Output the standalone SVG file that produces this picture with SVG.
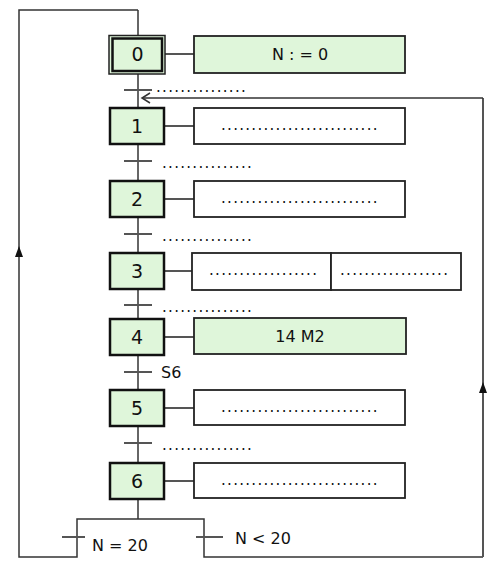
<svg xmlns="http://www.w3.org/2000/svg" width="503" height="578" viewBox="0 0 503 578">
<style>
.step{fill:#dff6da;stroke:#111;stroke-width:2.5}
.num{font-family:"DejaVu Sans",sans-serif;font-size:19px;fill:#111;text-anchor:middle}
.act{fill:#fff;stroke:#222;stroke-width:1.8}
.actg{fill:#dff6da;stroke:#222;stroke-width:1.8}
.txt{font-family:"DejaVu Sans",sans-serif;font-size:16px;fill:#111}
.dots{font-family:"DejaVu Sans",sans-serif;font-size:15px;fill:#111;letter-spacing:1.3px}
.ln{fill:none;stroke:#333;stroke-width:1.5}
.lk{fill:none;stroke:#555;stroke-width:2}
</style>
<rect width="503" height="578" fill="#fff"/>
<g id="connectors">
<path class="ln" d="M138 10 V519"/>
<path class="ln" d="M138 10 H19 V557 H77 V519 H204 V557 H483"/>
<path class="lk" d="M483 557 V98"/>
<path class="ln" d="M483 98 H142"/>
<path class="ln" d="M150 93 L142 98 L150 103"/>
<path d="M19 246 L15 257 L23 257 Z" fill="#111"/>
<path d="M483 382 L479 393 L487 393 Z" fill="#111"/>
<g class="lk">
<path d="M165 54 H194"/>
<path d="M164 126 H194"/>
<path d="M164 199 H194"/>
<path d="M164 271 H192"/>
<path d="M164 337 H194"/>
<path d="M164 408 H194"/>
<path d="M164 481 H194"/>
</g>
<g class="lk">
<path d="M124 90 H152"/>
<path d="M124 161 H152"/>
<path d="M124 234 H152"/>
<path d="M124 305 H152"/>
<path d="M124 372 H152"/>
<path d="M124 443 H152"/>
<path d="M62 537 H85"/>
<path d="M196 537 H223"/>
</g>
<text class="dots" x="156" y="92">...............</text>
<text class="dots" x="162" y="168">...............</text>
<text class="dots" x="162" y="241">...............</text>
<text class="dots" x="162" y="312">...............</text>
<text class="txt" x="161" y="378">S6</text>
<text class="dots" x="162" y="450">...............</text>
<text class="txt" x="92" y="551">N = 20</text>
<text class="txt" x="235" y="544">N &lt; 20</text>
</g>
<g id="step0">
<rect x="109" y="35.5" width="56" height="38.5" fill="#dff6da" stroke="#222" stroke-width="1.5"/>
<rect x="112.5" y="38.5" width="49.5" height="32.5" class="step"/>
<text class="num" x="137.5" y="61">0</text>
</g>
<g id="action0">
<rect class="actg" x="194" y="36" width="211" height="37"/>
<text class="txt" x="300" y="60" text-anchor="middle">N : = 0</text>
</g>
<g id="step1">
<rect class="step" x="110" y="108" width="54" height="36"/>
<text class="num" x="137" y="133">1</text>
</g>
<g id="action1">
<rect class="act" x="194" y="108" width="211" height="36"/>
<text class="dots" x="221" y="130">..........................</text>
</g>
<g id="step2">
<rect class="step" x="110" y="181" width="54" height="36"/>
<text class="num" x="137" y="206">2</text>
</g>
<g id="action2">
<rect class="act" x="194" y="181" width="211" height="36"/>
<text class="dots" x="221" y="203">..........................</text>
</g>
<g id="step3">
<rect class="step" x="110" y="253" width="54" height="36"/>
<text class="num" x="137" y="278">3</text>
</g>
<g id="action3a">
<rect class="act" x="192" y="253" width="139" height="37"/>
<text class="dots" x="209" y="275">..................</text>
</g>
<g id="action3b">
<rect class="act" x="331" y="253" width="130" height="37"/>
<text class="dots" x="340" y="275">..................</text>
</g>
<g id="step4">
<rect class="step" x="110" y="319" width="54" height="36"/>
<text class="num" x="137" y="344">4</text>
</g>
<g id="action4">
<rect class="actg" x="194" y="318" width="212" height="36"/>
<text class="txt" x="300" y="342" text-anchor="middle">14 M2</text>
</g>
<g id="step5">
<rect class="step" x="110" y="390" width="54" height="36"/>
<text class="num" x="137" y="415">5</text>
</g>
<g id="action5">
<rect class="act" x="194" y="390" width="211" height="35"/>
<text class="dots" x="221" y="412">..........................</text>
</g>
<g id="step6">
<rect class="step" x="110" y="463" width="54" height="36"/>
<text class="num" x="137" y="488">6</text>
</g>
<g id="action6">
<rect class="act" x="194" y="463" width="211" height="35"/>
<text class="dots" x="221" y="485">..........................</text>
</g>
</svg>
